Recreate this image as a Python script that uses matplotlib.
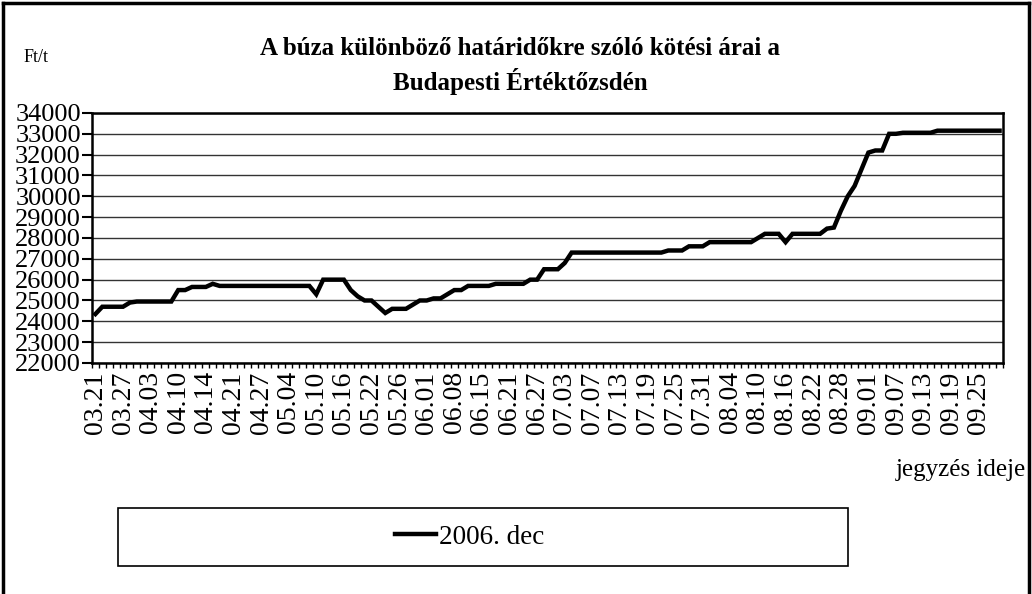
import numpy as np
import matplotlib
matplotlib.use("Agg")
import matplotlib.pyplot as plt
from matplotlib.patches import Rectangle
from matplotlib.lines import Line2D

plt.rcParams['font.family'] = ['Liberation Serif', 'DejaVu Serif']

# kotesi arak, Ft/t (egy ertek minden jegyzesi naphoz)
prices = [24350, 24700, 24700, 24700, 24700, 24900, 24950, 24950, 24950, 24950,
          24950, 24950, 25500, 25500, 25650, 25650, 25650, 25800, 25700, 25700,
          25700, 25700, 25700, 25700, 25700, 25700, 25700, 25700, 25700, 25700,
          25700, 25700, 25300, 26000, 26000, 26000, 26000, 25500, 25200, 25000,
          25000, 24700, 24400, 24600, 24600, 24600, 24800, 25000, 25000, 25100,
          25100, 25300, 25500, 25500, 25700, 25700, 25700, 25700, 25800, 25800,
          25800, 25800, 25800, 26000, 26000, 26500, 26500, 26500, 26800, 27300,
          27300, 27300, 27300, 27300, 27300, 27300, 27300, 27300, 27300, 27300,
          27300, 27300, 27300, 27400, 27400, 27400, 27600, 27600, 27600, 27800,
          27800, 27800, 27800, 27800, 27800, 27800, 28000, 28200, 28200, 28200,
          27800, 28200, 28200, 28200, 28200, 28200, 28450, 28500, 29300, 30000,
          30500, 31300, 32100, 32200, 32200, 33000, 33000, 33050, 33050, 33050,
          33050, 33050, 33150, 33150, 33150, 33150, 33150, 33150, 33150, 33150,
          33150, 33150]

tick_labels = ['03.21', '03.27', '04.03', '04.10', '04.14', '04.21', '04.27',
               '05.04', '05.10', '05.16', '05.22', '05.26', '06.01', '06.08',
               '06.15', '06.21', '06.27', '07.03', '07.07', '07.13', '07.19',
               '07.25', '07.31', '08.04', '08.10', '08.16', '08.22', '08.28',
               '09.01', '09.07', '09.13', '09.19', '09.25']
label_step = 4
series_name = '2006. dec'

fig = plt.figure(figsize=(10.32, 5.94), dpi=100)
ax = fig.add_axes([0.0891, 0.3889, 0.8828, 0.4209])

x = np.arange(len(prices))
ax.plot(x, prices, color='black', lw=3.2, solid_joinstyle='miter')

ax.set_xlim(-0.5, len(prices) - 0.5)
ax.set_ylim(22000, 34000)
ax.set_yticks(np.arange(22000, 34001, 1000))
ax.tick_params(axis='y', direction='out', length=7, width=1.5, labelsize=19, pad=1)
ax.yaxis.grid(True, color='#333333', lw=1)
ax.set_axisbelow(True)

ax.set_xticks(np.arange(0, len(prices), label_step)[:len(tick_labels)])
ax.set_xticklabels(tick_labels, rotation=90, fontsize=20)
ax.set_xticks(np.arange(-0.5, len(prices)), minor=True)
ax.tick_params(axis='x', which='major', length=0, pad=6)
ax.tick_params(axis='x', which='minor', direction='out', length=3.5, width=1)
for s in ax.spines.values():
    s.set_linewidth(1.8)
    s.set_color('black')

fig.text(0.504, 0.918, 'A búza különböző határidőkre szóló kötési árai a',
         ha='center', va='center', fontsize=18, fontweight='bold')
fig.text(0.504, 0.862, 'Budapesti Értéktőzsdén',
         ha='center', va='center', fontsize=18, fontweight='bold')
fig.text(0.023, 0.903, 'Ft/t', ha='left', va='center', fontsize=13)
fig.text(0.994, 0.208, 'jegyzés ideje', ha='right', va='center', fontsize=18)

# kulso keret (also szele kivul esik)
fig.add_artist(Line2D([0.003, 0.003], [-0.1, 0.995], color='black', lw=2.5,
                      transform=fig.transFigure))
fig.add_artist(Line2D([0.003, 0.997], [0.995, 0.995], color='black', lw=2.5,
                      transform=fig.transFigure))
fig.add_artist(Line2D([0.997, 0.997], [-0.1, 0.995], color='black', lw=2.5,
                      transform=fig.transFigure))

# jelmagyarazat
fig.add_artist(Rectangle((0.1143, 0.0471), 0.7074, 0.0976, fill=False,
                         ec='black', lw=1.2, transform=fig.transFigure))
handle = Line2D([], [], color='black', lw=3.2)
fig.legend([handle], [series_name], loc='center',
           bbox_to_anchor=(0.455, 0.0959), frameon=False, fontsize=19.5,
           handlelength=1.5, handletextpad=0.1)

fig.savefig('out.png', dpi=100)
